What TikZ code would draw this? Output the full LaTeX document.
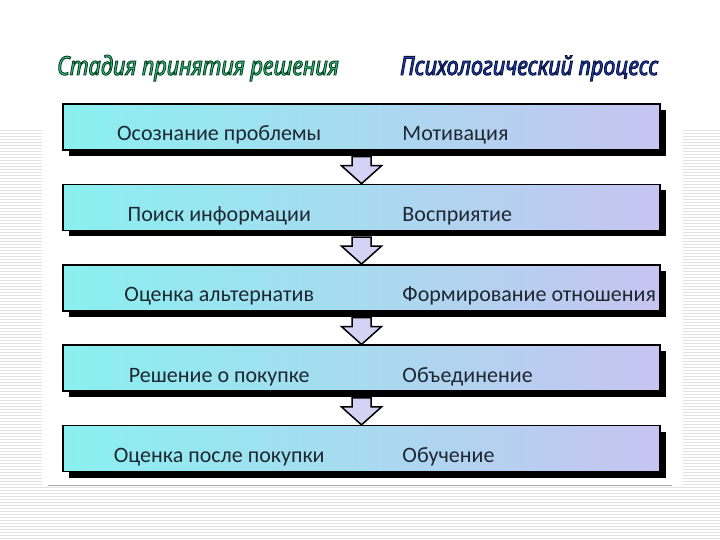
\documentclass[tikz,border=0pt]{standalone}
\usepackage{fontspec}
\setmainfont{Carlito}
\newfontfamily\headfont[FakeStretch=0.835]{Noto Sans}
\usetikzlibrary{positioning, calc, shadows}
\definecolor{boxleft}{RGB}{138,240,240}
\definecolor{boxright}{RGB}{198,196,240}
\definecolor{arrowfill}{RGB}{214,210,245}
\definecolor{stagegreen}{RGB}{60,200,140}
\definecolor{procblue}{RGB}{36,70,185}
\definecolor{stripe}{RGB}{226,226,226}
\definecolor{textdark}{RGB}{30,40,50}
% outlined text: fill in current colour, stroke given as r g b
\newcommand{\outlined}[2]{\special{pdf:literal direct #1 RG 2 Tr 0.9 w}#2\special{pdf:literal direct 0 Tr}}
\tikzset{
  stagebox/.style={
    draw=black, line width=1.5pt, left color=boxleft, right color=boxright,
    minimum width=597pt, minimum height=46pt, inner sep=0pt,
    general shadow={fill=black, shadow xshift=5.5pt, shadow yshift=-6pt}
  },
  stagetext/.style={font=\fontsize{22}{26}\selectfont, text=textdark, anchor=base, inner sep=0pt},
  proctext/.style={font=\fontsize{22}{26}\selectfont, text=textdark, anchor=base west, inner sep=0pt},
  blockarrow/.style={draw=black, line width=1.5pt, fill=arrowfill, line join=miter},
  heading/.style={font=\headfont\bfseries\itshape\fontsize{26}{30}\selectfont, anchor=base west, inner sep=0pt},
  stripeline/.style={draw=stripe, line width=0.8pt},
}
\begin{document}
\begin{tikzpicture}[x=1pt, y=1pt]
  \useasboundingbox (0,0) rectangle (720,540);
  \fill[white] (0,0) rectangle (720,540);

  % striped background
  \foreach \y in {1.5,4.5,...,409.5} {
    \draw[stripeline] (0,\y) -- (42,\y);
    \draw[stripeline] (683,\y) -- (720,\y);
  }
  \foreach \y in {1.5,4.5,...,52.5}
    \draw[stripeline] (42,\y) -- (683,\y);
  \draw[gray!70, line width=1pt] (48,54) -- (672,54);

  % headings
  \node[heading, text=stagegreen] (h1) at (57,465) {\outlined{0.03 0.25 0.14}{Стадия принятия решения}};
  \node[heading, text=procblue] (h2) at (400,465) {\outlined{0.03 0.07 0.25}{Психологический процесс}};

  % stages
  \foreach \st/\pr [count=\i] in {
      Осознание проблемы/Мотивация,
      Поиск информации/Восприятие,
      Оценка альтернатив/Формирование отношения,
      Решение о покупке/Объединение,
      Оценка после покупки/Обучение} {
    \node[stagebox] (s\i) at (361.5,{413-80.4*(\i-1)}) {};
    \node[stagetext] (l\i) at ([xshift=157pt, yshift=-14pt]s\i.west) {\st};
    \node[proctext] (p\i) at ([xshift=340pt, yshift=-14pt]s\i.west) {\pr};
  }

  % arrows between stages
  \foreach \a/\b in {s1/s2, s2/s3, s3/s4, s4/s5}
    \draw[blockarrow] ($(\a.south)+(-9.5,-6)$) -- ($(\a.south)+(9.5,-6)$)
      -- ($(\a.south)+(9.5,-15)$) -- ($(\a.south)+(20,-15)$) -- (\b.north)
      -- ($(\a.south)+(-20,-15)$) -- ($(\a.south)+(-9.5,-15)$) -- cycle;
\end{tikzpicture}
\end{document}
